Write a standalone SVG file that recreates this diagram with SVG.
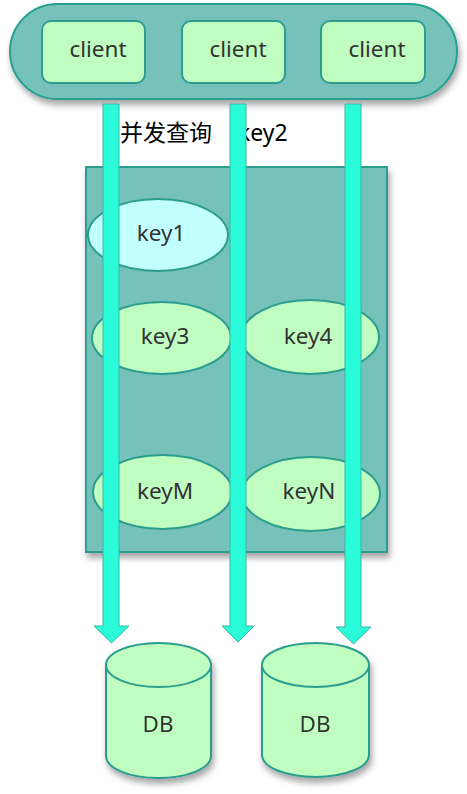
<svg xmlns="http://www.w3.org/2000/svg" width="467" height="794" viewBox="0 0 467 794">
<defs>
<filter id="sh" x="-20%" y="-20%" width="140%" height="150%">
<feDropShadow dx="2" dy="5" stdDeviation="3" flood-color="#000" flood-opacity="0.35"/>
</filter>
</defs>
<style>
.pill{fill:#76c2ba;stroke:#26a08f;stroke-width:2}
.cli{fill:#c0fdc0;stroke:#2a9d8f;stroke-width:2}
.key{fill:#c0fdc0;stroke:#2a9d8f;stroke-width:2}
.k1{fill:#c2ffff}
.area{fill:#76c2ba;stroke:#2a9d8f;stroke-width:2}
.db{fill:#c0fdc0;stroke:#2a9d8f;stroke-width:2}
.t{font-family:"Noto Sans","Noto Sans CJK SC",sans-serif;font-size:22.5px;fill:#333;text-anchor:middle}
.lbl{font-family:"Noto Sans","Noto Sans CJK SC",sans-serif;font-size:23px;fill:#000}
.arr{fill:#2afcd9;stroke:#3cb5a6;stroke-width:1}
</style>
<g id="clients-group">
<rect class="pill" x="10" y="4" width="447" height="95" rx="47.5" filter="url(#sh)"/>
</g>
<g id="client1"><rect class="cli" x="42" y="21" width="103" height="62" rx="9"/><text class="t" x="98" y="57">client</text></g>
<g id="client2"><rect class="cli" x="182" y="21" width="103" height="62" rx="9"/><text class="t" x="238" y="57">client</text></g>
<g id="client3"><rect class="cli" x="321" y="21" width="104" height="62" rx="9"/><text class="t" x="377" y="57">client</text></g>
<g id="label-key2"><text class="lbl" x="238" y="141">key2</text></g>
<g id="keyspace"><rect class="area" x="86" y="167" width="301" height="385" filter="url(#sh)"/></g>
<g id="key1"><ellipse class="key k1" cx="158" cy="235" rx="70" ry="36"/><text class="t" x="161" y="241">key1</text></g>
<g id="key3"><ellipse class="key" cx="161.5" cy="338" rx="69.5" ry="36"/><text class="t" x="165" y="344">key3</text></g>
<g id="key4"><ellipse class="key" cx="310" cy="337" rx="69" ry="37"/><text class="t" x="308" y="344">key4</text></g>
<g id="keyM"><ellipse class="key" cx="162.5" cy="492" rx="69.5" ry="37"/><text class="t" x="165" y="499">keyM</text></g>
<g id="keyN"><ellipse class="key" cx="311" cy="494" rx="69" ry="37"/><text class="t" x="309" y="499">keyN</text></g>
<g id="db1" filter="url(#sh)">
<path class="db" d="M106,665 A52.5,22 0 0 1 211,665 V756 A52.5,22 0 0 1 106,756 Z"/>
<path class="db" d="M106,665 A52.5,22 0 0 0 211,665" fill="none"/>
<text class="t" x="158" y="732">DB</text>
</g>
<g id="db2" filter="url(#sh)">
<path class="db" d="M262,665 A53.5,22 0 0 1 369,665 V755 A53.5,22 0 0 1 262,755 Z"/>
<path class="db" d="M262,665 A53.5,22 0 0 0 369,665" fill="none"/>
<text class="t" x="315" y="732">DB</text>
</g>
<g id="connectors">
<polygon class="arr" points="103,104 119,104 119,626 129,626 111.5,643 94,626 103,626"/>
<polygon class="arr" points="230,104 246,104 246,626 254,626 238,642 222,626 230,626"/>
<polygon class="arr" points="345,104 361,104 361,627 371,627 353.5,644 336,627 345,627"/>
</g>
<g id="label-concurrent"><text class="lbl" x="120" y="141">并发查询</text></g>
</svg>
